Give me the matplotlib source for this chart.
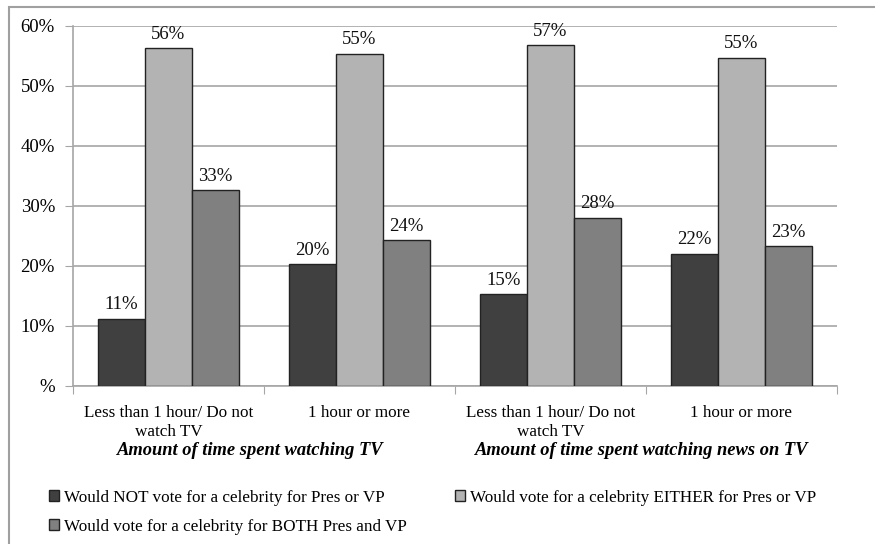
import matplotlib
matplotlib.use("Agg")
import matplotlib.pyplot as plt
from matplotlib.patches import Rectangle
import numpy as np

categories = ["Less than 1 hour/ Do not\nwatch TV", "1 hour or more",
              "Less than 1 hour/ Do not\nwatch TV", "1 hour or more"]
group_titles = ["Amount of time spent watching TV", "Amount of time spent watching news on TV"]
series_names = ["Would NOT vote for a celebrity for Pres or VP",
                "Would vote for a celebrity EITHER for Pres or VP",
                "Would vote for a celebrity for BOTH Pres and VP"]
not_vote = [11.2, 20.3, 15.3, 22.0]
either = [56.3, 55.4, 56.8, 54.7]
both = [32.6, 24.3, 28.0, 23.3]
labels_not = ["11%", "20%", "15%", "22%"]
labels_either = ["56%", "55%", "57%", "55%"]
labels_both = ["33%", "24%", "28%", "23%"]
yticks = [0, 10, 20, 30, 40, 50, 60]
ytick_labels = ["%", "10%", "20%", "30%", "40%", "50%", "60%"]

colors = ["#404040", "#b3b3b3", "#808080"]
plt.rcParams['font.family'] = ['Liberation Serif', 'DejaVu Serif']

W, H = 875, 544
fig = plt.figure(figsize=(W/100, H/100), dpi=100)
ax = fig.add_axes([73/W, 1 - 386/H, (837-73)/W, (386-26)/H])

x = np.arange(len(categories))
bw = 0.246
series = [not_vote, either, both]
lbls = [labels_not, labels_either, labels_both]
handles = []
for i, (vals, lab) in enumerate(zip(series, lbls)):
    xs = x + (i - 1) * bw
    bars = ax.bar(xs, vals, width=bw, color=colors[i], edgecolor="#222222",
                  linewidth=1.0, label=series_names[i], zorder=3)
    handles.append(bars)
    for b, t in zip(bars, lab):
        ax.annotate(t, (b.get_x() + b.get_width()/2, b.get_height()),
                    xytext=(0, 4), textcoords="offset points",
                    ha="center", va="bottom", fontsize=13.5, color="#111111")

ax.set_xlim(-0.5, 3.5)
ax.set_ylim(0, 60)
ax.set_yticks(yticks)
ax.set_yticklabels(ytick_labels, fontsize=13.5)
ax.yaxis.grid(True, color="#a6a6a6", linewidth=1.2, zorder=0)
ax.set_axisbelow(True)
ax.tick_params(axis="y", length=6, color="#a6a6a6", pad=7)
ax.set_xticks([-0.5, 0.5, 1.5, 2.5, 3.5])
ax.set_xticklabels([])
ax.tick_params(axis="x", length=6, color="#a6a6a6", direction="out")
for s in ["top", "right"]:
    ax.spines[s].set_visible(False)
for s in ["left", "bottom"]:
    ax.spines[s].set_color("#a6a6a6")
    ax.spines[s].set_linewidth(1.2)

for xi, c in zip(x, categories):
    ax.text(xi, -3.1, c, ha="center", va="top", fontsize=12.3,
            linespacing=1.25)
title_x = [0.43, 2.48]
for tx, t in zip(title_x, group_titles):
    ax.text(tx, -10.8, t, ha="center", va="center", fontsize=13.3,
            fontweight="bold", fontstyle="italic")

order = [0, 2, 1]
leg = fig.legend([handles[k] for k in order], [series_names[k] for k in order],
                 loc="upper left",
                 bbox_to_anchor=(42/W, 1 - 483/H), ncol=2, frameon=False,
                 fontsize=12.3, handlelength=0.6, handleheight=0.6,
                 handletextpad=0.3, columnspacing=2.8, labelspacing=0.75,
                 borderaxespad=0)

fig.patches.append(Rectangle((9/W, -0.05), 1.1, 1 - 7/H + 0.05,
                             transform=fig.transFigure, fill=False,
                             edgecolor="#a0a0a0", linewidth=1.5))
fig.savefig("out.png", dpi=100)
